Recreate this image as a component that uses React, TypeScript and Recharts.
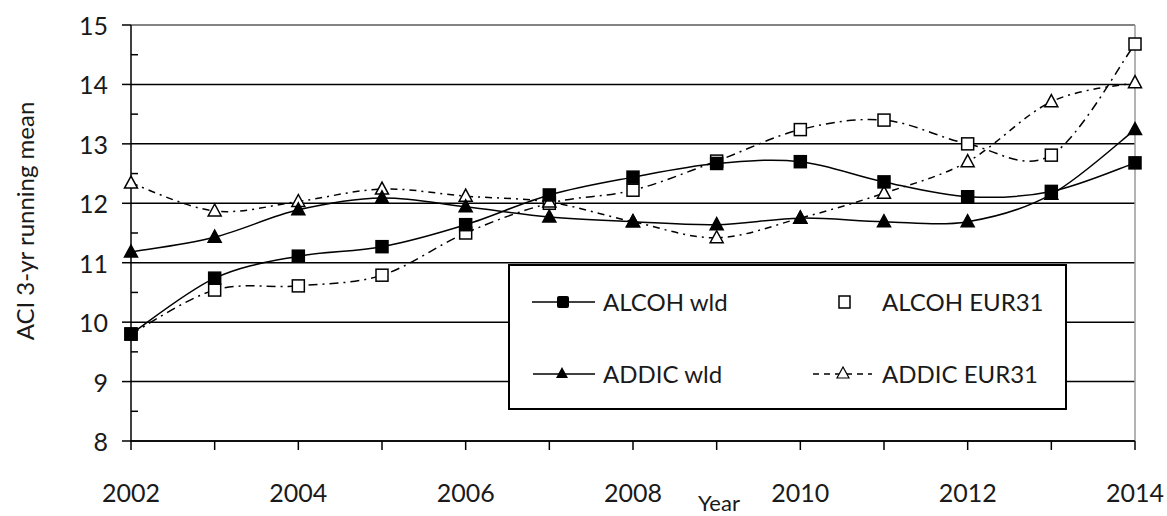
import { LineChart, Line, XAxis, YAxis, CartesianGrid, ReferenceLine, Legend } from 'recharts';

const years = [2002, 2003, 2004, 2005, 2006, 2007, 2008, 2009, 2010, 2011, 2012, 2013, 2014];
const alcohWld = [9.8, 10.74, 11.11, 11.27, 11.64, 12.14, 12.44, 12.67, 12.7, 12.36, 12.11, 12.2, 12.68];
const alcohEur = [9.8, 10.54, 10.61, 10.79, 11.5, 12.0, 12.22, 12.71, 13.24, 13.4, 13.0, 12.81, 14.68];
const addicWld = [11.18, 11.43, 11.89, 12.09, 11.94, 11.77, 11.69, 11.64, 11.75, 11.69, 11.69, 12.15, 13.24];
const addicEur = [12.34, 11.87, 12.03, 12.24, 12.12, 12.02, 11.69, 11.42, 11.75, 12.17, 12.7, 13.71, 14.03];

const yMajorTicks = [8, 9, 10, 11, 12, 13, 14, 15];
const yMinorTicks = [8.5, 9.5, 10.5, 11.5, 12.5, 13.5, 14.5];
const xLabelYears = [2002, 2004, 2006, 2008, 2010, 2012, 2014];

const FONT = 'Lato, "Open Sans", sans-serif';
const INK = '#1a1a1a';

const chartData = years.map((year, i) => ({
  year,
  alcohWld: alcohWld[i],
  alcohEur: alcohEur[i],
  addicWld: addicWld[i],
  addicEur: addicEur[i],
}));

// excel-style smoothed line (catmull-rom through the points)
function smoothCurve(context: any) {
  let pts: number[][] = [];
  return {
    areaStart() {},
    areaEnd() {},
    lineStart() {
      pts = [];
    },
    point(x: number, y: number) {
      pts.push([+x, +y]);
    },
    lineEnd() {
      const n = pts.length;
      if (!n) return;
      context.moveTo(pts[0][0], pts[0][1]);
      for (let i = 0; i < n - 1; i++) {
        const p0 = pts[Math.max(i - 1, 0)];
        const p1 = pts[i];
        const p2 = pts[i + 1];
        const p3 = pts[Math.min(i + 2, n - 1)];
        context.bezierCurveTo(
          p1[0] + (p2[0] - p0[0]) / 6,
          p1[1] + (p2[1] - p0[1]) / 6,
          p2[0] - (p3[0] - p1[0]) / 6,
          p2[1] - (p3[1] - p1[1]) / 6,
          p2[0],
          p2[1]
        );
      }
    },
  };
}

const squareDot = (filled: boolean) => (props: any) => {
  const { cx, cy, index } = props;
  if (cx == null || cy == null) return <g key={`s-${index}`} />;
  return (
    <rect
      key={`s-${index}`}
      x={cx - 6}
      y={cy - 6}
      width={12}
      height={12}
      fill={filled ? '#000' : '#fff'}
      stroke="#000"
      strokeWidth={1.5}
    />
  );
};

const triangleDot = (filled: boolean) => (props: any) => {
  const { cx, cy, index } = props;
  if (cx == null || cy == null) return <g key={`t-${index}`} />;
  return (
    <polygon
      key={`t-${index}`}
      points={`${cx},${cy - 7} ${cx - 6.5},${cy + 5} ${cx + 6.5},${cy + 5}`}
      fill={filled ? '#000' : '#fff'}
      stroke="#000"
      strokeWidth={1.5}
    />
  );
};

function YTick({ x, y, payload }: any) {
  const v = payload.value;
  if (yMajorTicks.includes(v)) {
    return (
      <g>
        <line x1={x - 9} x2={x} y1={y} y2={y} stroke="#000" strokeWidth={1.5} />
        <text x={x - 23} y={y} textAnchor="end" dominantBaseline="central" fontSize={25} fontFamily={FONT} fill={INK}>
          {v}
        </text>
      </g>
    );
  }
  return <line x1={x} x2={x + 7} y1={y} y2={y} stroke="#000" strokeWidth={1.5} />;
}

function XTick({ x, y, payload }: any) {
  const v = payload.value;
  return (
    <g>
      <line x1={x} x2={x} y1={y} y2={y + 9} stroke="#000" strokeWidth={1.5} />
      {xLabelYears.includes(v) && (
        <text x={x} y={y + 51} textAnchor="middle" dominantBaseline="central" fontSize={25} fontFamily={FONT} fill={INK}>
          {v}
        </text>
      )}
    </g>
  );
}

const legendText = { position: 'absolute' as const, fontSize: 24, fontFamily: FONT, color: INK, lineHeight: '28px', whiteSpace: 'nowrap' as const };

function LegendBox() {
  return (
    <div
      style={{
        position: 'relative',
        width: 559,
        height: 146,
        boxSizing: 'border-box',
        border: '2px solid #000',
        background: '#fff',
      }}
    >
      <svg width={559} height={146} style={{ position: 'absolute', left: -2, top: -2 }}>
        <line x1={24} x2={87} y1={38} y2={38} stroke="#000" strokeWidth={1.5} />
        <rect x={49} y={32} width={12} height={12} rx={2} fill="#000" />
        <rect x={331} y={32} width={11} height={12} fill="#fff" stroke="#000" strokeWidth={1.5} />
        <line x1={25} x2={87} y1={110} y2={110} stroke="#000" strokeWidth={1.5} />
        <polygon points="54,103 48,114 60,114" fill="#000" />
        <line x1={305} x2={364} y1={110} y2={110} stroke="#000" strokeWidth={1.5} strokeDasharray="6 5" />
        <polygon points="335,103 329,114 341,114" fill="#fff" stroke="#000" strokeWidth={1.2} />
      </svg>
      <span style={{ ...legendText, left: 93, top: 22 }}>ALCOH wld</span>
      <span style={{ ...legendText, left: 372, top: 22 }}>ALCOH EUR31</span>
      <span style={{ ...legendText, left: 93, top: 94 }}>ADDIC wld</span>
      <span style={{ ...legendText, left: 372, top: 94 }}>ADDIC EUR31</span>
    </div>
  );
}

export default function App() {
  return (
    <div style={{ position: 'absolute', left: 0, top: 0, background: '#fff' }}>
      <LineChart width={1167} height={516} data={chartData} margin={{ top: 25, right: 32, bottom: 0, left: 0 }}>
        <CartesianGrid vertical={false} horizontalValues={yMajorTicks} stroke="#000" strokeWidth={1.5} />
        <ReferenceLine y={15} stroke="#9a9a9a" strokeWidth={1.5} />
        <ReferenceLine x={2014} stroke="#9a9a9a" strokeWidth={1.5} />
        <XAxis
          dataKey="year"
          type="number"
          domain={[2002, 2014]}
          ticks={years}
          interval={0}
          height={75}
          tickSize={0}
          tickMargin={0}
          tickLine={false}
          tick={<XTick />}
          axisLine={{ stroke: '#000', strokeWidth: 1.5 }}
          label={{
            content: () => (
              <text x={719} y={502} textAnchor="middle" dominantBaseline="central" fontSize={22} fontFamily={FONT} fill={INK}>
                Year
              </text>
            ),
          }}
        />
        <YAxis
          type="number"
          domain={[8, 15]}
          ticks={[...yMajorTicks, ...yMinorTicks].sort((a, b) => a - b)}
          interval={0}
          width={131}
          tickSize={0}
          tickMargin={0}
          tickLine={false}
          tick={<YTick />}
          axisLine={{ stroke: '#000', strokeWidth: 1.5 }}
          label={{
            content: () => (
              <text
                x={24}
                y={221}
                transform="rotate(-90, 24, 221)"
                textAnchor="middle"
                dominantBaseline="central"
                fontSize={24}
                fontFamily={FONT}
                fill={INK}
              >
                ACI 3-yr running mean
              </text>
            ),
          }}
        />
        <Legend
          layout="horizontal"
          verticalAlign="middle"
          align="center"
          wrapperStyle={{ left: 508, top: 264, right: 'auto', bottom: 'auto', width: 559, height: 146 }}
          content={() => <LegendBox />}
        />
        <Line
          dataKey="alcohEur"
          name="ALCOH EUR31"
          type={smoothCurve as any}
          stroke="#000"
          strokeWidth={1.5}
          strokeDasharray="9 5 2 5"
          dot={squareDot(false)}
          isAnimationActive={false}
        />
        <Line
          dataKey="addicEur"
          name="ADDIC EUR31"
          type={smoothCurve as any}
          stroke="#000"
          strokeWidth={1.5}
          strokeDasharray="7 5 2 5"
          dot={triangleDot(false)}
          isAnimationActive={false}
        />
        <Line
          dataKey="addicWld"
          name="ADDIC wld"
          type={smoothCurve as any}
          stroke="#000"
          strokeWidth={1.5}
          dot={triangleDot(true)}
          isAnimationActive={false}
        />
        <Line
          dataKey="alcohWld"
          name="ALCOH wld"
          type={smoothCurve as any}
          stroke="#000"
          strokeWidth={1.5}
          dot={squareDot(true)}
          isAnimationActive={false}
        />
      </LineChart>
    </div>
  );
}
